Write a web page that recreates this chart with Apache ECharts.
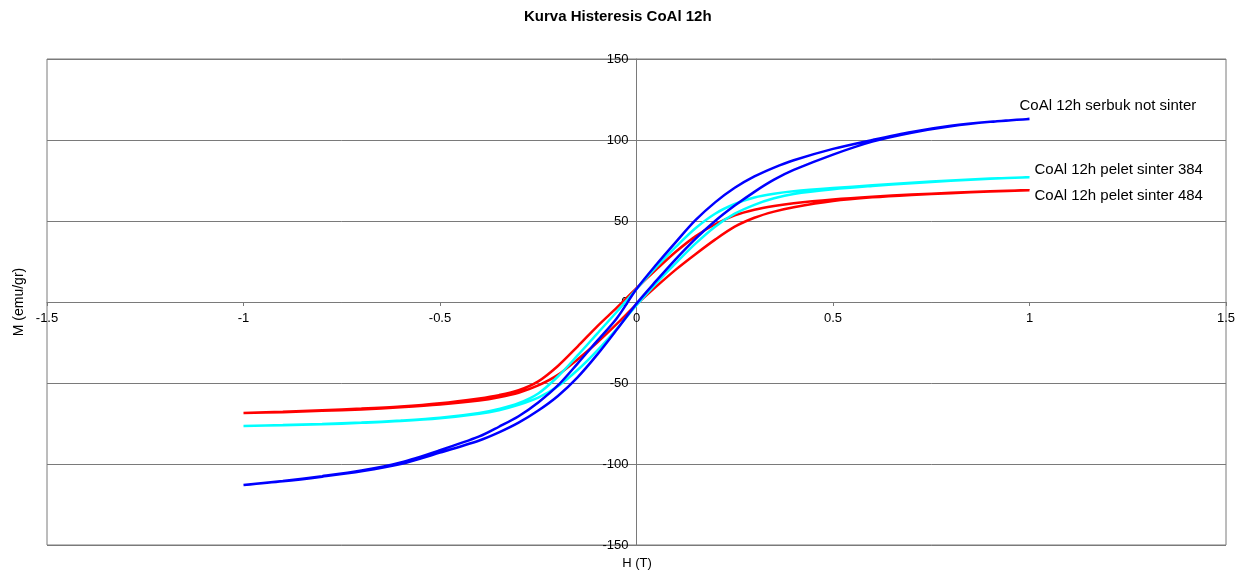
<!DOCTYPE html>
<html>
<head>
<meta charset="utf-8">
<title>Kurva Histeresis CoAl 12h</title>
<script src="https://cdn.jsdelivr.net/npm/echarts@6/dist/echarts.min.js"></script>
<style>
  html, body { margin: 0; padding: 0; background: #ffffff; }
  #chart { width: 1250px; height: 573px; }
</style>
</head>
<body>
<div id="chart"></div>
<script>
// Applied field H (T), shared by every branch
const hGrid = [-1, -0.9, -0.8, -0.7, -0.6, -0.5, -0.4, -0.35, -0.3, -0.25, -0.2, -0.15, -0.1, -0.05,
  0, 0.05, 0.1, 0.15, 0.2, 0.25, 0.3, 0.35, 0.4, 0.5, 0.6, 0.7, 0.8, 0.9, 1];

// Magnetisation M (emu/gr); "Down" = field decreasing branch, "Up" = field increasing branch
const serbukDown = [-113, -110.5, -107.5, -104, -99, -91.5, -83, -77, -70.5, -62, -51.5, -38, -24, -10,
  8, 23, 37, 50.5, 61.5, 70.5, 77.5, 83, 87.5, 94.5, 100, 105, 108.8, 111.3, 113];
const serbukUp = [-113, -110.7, -107.8, -104.5, -100, -93, -85.5, -80.5, -74.5, -67, -58, -46.5, -32.5, -17,
  -1, 13, 26.5, 39, 50, 59.5, 68, 75.5, 81.5, 91, 99, 104.5, 108.5, 111.2, 113];

const pelet384Down = [-76.5, -76, -75.3, -74.4, -73.2, -71.5, -68.5, -66, -62.5, -56.5, -46, -33, -19.5, -6,
  8, 21.5, 34, 45.5, 54.5, 60.5, 64.5, 66.8, 68.3, 70.3, 72, 73.6, 75, 76.2, 77];
const pelet384Up = [-76.5, -76.1, -75.5, -74.6, -73.5, -71.8, -69, -66.8, -63.5, -59, -52, -42, -30, -16.5,
  -2, 11.5, 24, 36, 46.5, 54.5, 60, 64, 66.7, 69.6, 71.6, 73.3, 74.8, 76.1, 77];

const pelet484Down = [-68.5, -67.7, -66.8, -65.8, -64.5, -62.5, -59.5, -57.5, -54.5, -49, -39.5, -27.5, -15, -3.5,
  8.5, 20, 31, 40.5, 48, 53.5, 57, 59.3, 61, 63.3, 65, 66.3, 67.4, 68.3, 69];
const pelet484Up = [-68.5, -68, -67.2, -66.3, -65, -63.3, -60.8, -58.8, -56, -51.5, -45, -35.5, -25, -13.5,
  -1.5, 9.5, 20, 29.5, 38.5, 46.5, 52, 55.8, 58.5, 62.3, 64.6, 66.1, 67.2, 68.2, 69];

const seriesNames = ['CoAl 12h serbuk not sinter', 'CoAl 12h pelet sinter 384', 'CoAl 12h pelet sinter 484'];
const seriesColors = ['#0000ff', '#00ffff', '#ff0000'];
// where each end label sits relative to the end of its curve
const labelOffsets = [[-10, -13], [5, -7], [5, 6]];

const FONT = 'Liberation Sans, Arial, sans-serif';
const GRID_COLOR = '#7a7a7a';

// Plot area in the page and the axis ranges
const GRID = { left: 47, right: 24, top: 59, bottom: 28 };
const X_RANGE = [-1.5, 1.5];
const Y_RANGE = [-150, 150];
const PAGE_W = 1250, PAGE_H = 573;

// Shift each axis inward so it crosses the other axis at zero, labels included.
const plotW = PAGE_W - GRID.left - GRID.right;
const plotH = PAGE_H - GRID.top - GRID.bottom;
const xAxisOffset = -plotH * (0 - Y_RANGE[0]) / (Y_RANGE[1] - Y_RANGE[0]);
const yAxisOffset = -plotW * (0 - X_RANGE[0]) / (X_RANGE[1] - X_RANGE[0]);

// One closed loop per sample: run down from +1 T to -1 T, then back up to +1 T.
function loop(down, up) {
  const pts = [];
  for (let i = hGrid.length - 1; i >= 0; i--) pts.push([hGrid[i], down[i]]);
  for (let i = 1; i < hGrid.length; i++) pts.push([hGrid[i], up[i]]);
  return pts;
}

const loops = [
  loop(serbukDown, serbukUp),
  loop(pelet384Down, pelet384Up),
  loop(pelet484Down, pelet484Up)
];

const chart = echarts.init(document.getElementById('chart'), null, { renderer: 'canvas' });

chart.setOption({
  backgroundColor: '#ffffff',
  animation: false,
  title: {
    text: 'Kurva Histeresis CoAl 12h',
    left: 519,
    top: 4,
    textStyle: { fontSize: 15, fontWeight: 'bold', color: '#000', fontFamily: FONT }
  },
  graphic: [
    {
      type: 'text',
      x: 19,
      y: 302,
      rotation: Math.PI / 2,
      style: {
        text: 'M (emu/gr)', fill: '#000', fontSize: 14, fontFamily: FONT,
        textAlign: 'center', textVerticalAlign: 'middle'
      }
    },
    {
      type: 'text',
      x: 637,
      y: 563,
      style: {
        text: 'H (T)', fill: '#000', fontSize: 13, fontFamily: FONT,
        textAlign: 'center', textVerticalAlign: 'middle'
      }
    }
  ],
  grid: {
    left: GRID.left, right: GRID.right, top: GRID.top, bottom: GRID.bottom,
    show: true, borderColor: GRID_COLOR, borderWidth: 1, backgroundColor: 'transparent'
  },
  xAxis: {
    type: 'value',
    min: X_RANGE[0], max: X_RANGE[1], interval: 0.5,
    offset: xAxisOffset,
    axisLine: { onZero: false, lineStyle: { color: GRID_COLOR, width: 1 } },
    axisTick: { show: true, inside: false, length: 4, lineStyle: { color: GRID_COLOR } },
    axisLabel: { color: '#000', fontSize: 13, fontFamily: FONT, margin: 10, showMinLabel: true, showMaxLabel: true },
    splitLine: { show: false }
  },
  yAxis: {
    type: 'value',
    min: Y_RANGE[0], max: Y_RANGE[1], interval: 50,
    offset: yAxisOffset,
    axisLine: { onZero: false, lineStyle: { color: GRID_COLOR, width: 1 } },
    axisTick: { show: true, inside: false, length: 4, lineStyle: { color: GRID_COLOR } },
    axisLabel: { color: '#000', fontSize: 13, fontFamily: FONT, margin: 8 },
    splitLine: { show: true, lineStyle: { color: GRID_COLOR, width: 1 } }
  },
  series: seriesNames.map((name, k) => ({
    name: name,
    type: 'line',
    data: loops[k],
    smooth: 0.3,
    symbol: 'none',
    color: seriesColors[k],
    lineStyle: { color: seriesColors[k], width: 2.5 },
    z: 3 - k,
    endLabel: {
      show: true,
      formatter: '{a}',
      distance: 0,
      offset: labelOffsets[k],
      color: '#000',
      fontSize: 15,
      fontFamily: FONT
    }
  }))
});
</script>
</body>
</html>
